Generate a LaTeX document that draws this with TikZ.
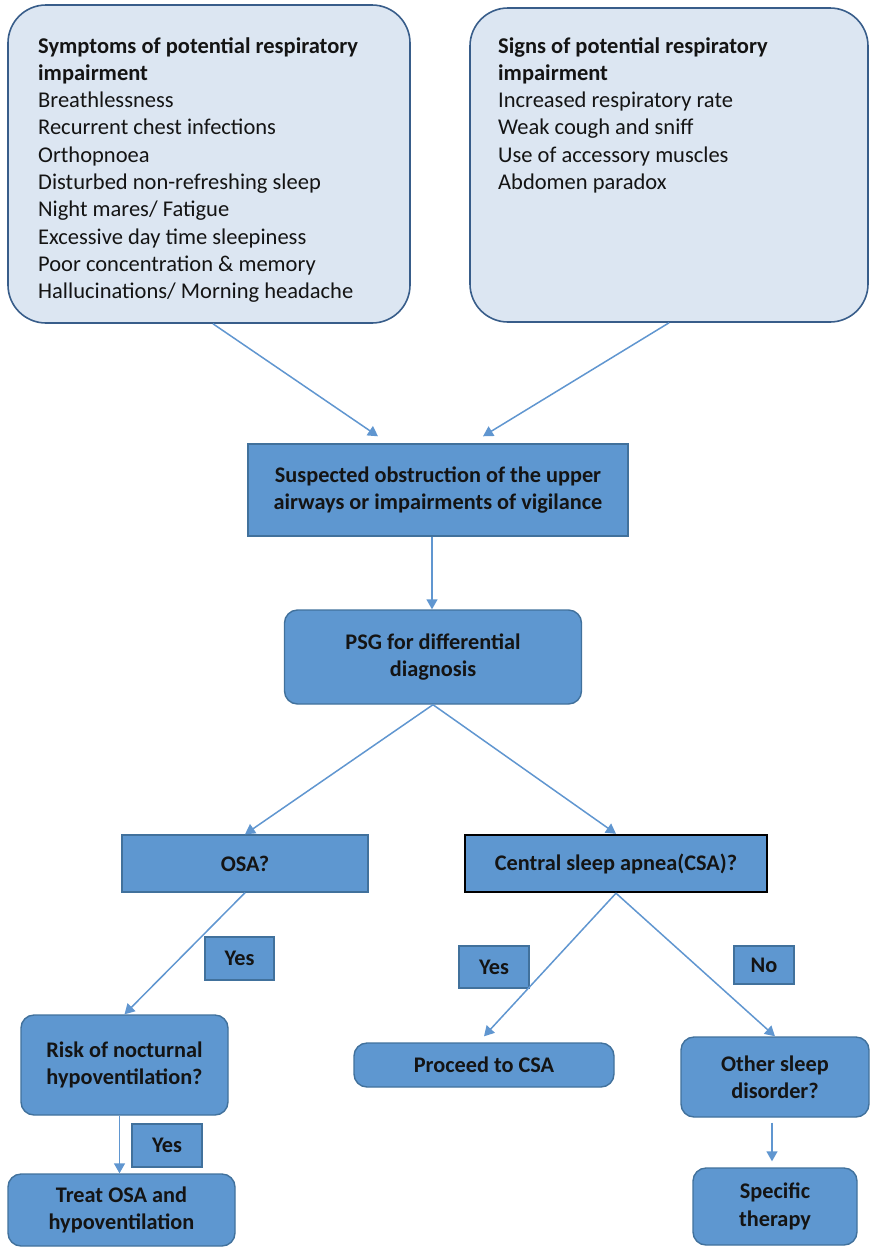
\documentclass[tikz,border=0pt]{standalone}
\usepackage{fontspec}
\setmainfont{Carlito}
\usetikzlibrary{arrows.meta,calc}
\definecolor{lightfill}{RGB}{220,230,242}
\definecolor{darkline}{RGB}{56,93,138}
\definecolor{midfill}{RGB}{94,151,208}
\definecolor{midline}{RGB}{65,113,156}
\definecolor{arrowc}{RGB}{96,150,208}
\definecolor{txt}{RGB}{20,20,20}
\tikzset{
  bigbox/.style={draw=darkline, fill=lightfill, line width=1.6pt, rounded corners=38pt, inner sep=0pt},
  listtext/.style={align=left, anchor=north west, inner sep=0pt, text=txt, font=\fontsize{22.5}{27.3}\selectfont},
  sqbox/.style={draw=midline, fill=midfill, line width=1.4pt, inner sep=0pt, align=center, text=txt, font=\bfseries\fontsize{22.3}{27.3}\selectfont},
  rbox/.style={sqbox, rounded corners=13pt},
  flow/.style={draw=arrowc, line width=1.5pt, -{Triangle[length=10pt,width=11pt]}},
}
\begin{document}
\begin{tikzpicture}[x=1pt,y=-1pt]
\useasboundingbox (0,0) rectangle (870,1248);
% top boxes
\node[bigbox, minimum width=402pt, minimum height=318pt] (sym) at (209,164) {};
\node[bigbox, minimum width=398pt, minimum height=314pt] (sig) at (669,165) {};
\node[listtext] (symtext) at (38,37) {\textbf{Symptoms of potential respiratory}\\\textbf{impairment}\\Breathlessness\\Recurrent chest infections\\Orthopnoea\\Disturbed non-refreshing sleep\\Night mares/ Fatigue\\Excessive day time sleepiness\\Poor concentration \& memory\\Hallucinations/ Morning headache};
\node[listtext] (sigtext) at (498,37) {\textbf{Signs of potential respiratory}\\\textbf{impairment}\\Increased respiratory rate\\Weak cough and sniff\\Use of accessory muscles\\Abdomen paradox};
% flow boxes
\node[sqbox, minimum width=380pt, minimum height=92pt] (susp) at (438,490) {Suspected obstruction of the upper\\airways or impairments of vigilance};
\node[rbox, minimum width=297pt, minimum height=94pt] (psg) at (433,657) {PSG for differential\\diagnosis};
\node[sqbox, minimum width=246pt, minimum height=57pt] (osa) at (245,863.5) {OSA?};
\node[sqbox, draw=black, line width=2.4pt, minimum width=302pt, minimum height=57pt] (csa) at (616,863.5) {Central sleep apnea(CSA)?};
\node[sqbox, minimum width=69pt, minimum height=43pt] (yes1) at (239.5,958.5) {Yes};
\node[sqbox, minimum width=70pt, minimum height=42pt] (yes2) at (494,967) {Yes};
\node[sqbox, minimum width=60pt, minimum height=38pt] (no) at (764,965) {No};
\node[rbox, minimum width=207pt, minimum height=100pt] (risk) at (124.5,1065) {Risk of nocturnal\\hypoventilation?};
\node[sqbox, minimum width=70pt, minimum height=43pt] (yes3) at (167,1145.5) {Yes};
\node[rbox, minimum width=227pt, minimum height=72pt] (treat) at (121.5,1210) {Treat OSA and\\hypoventilation};
\node[rbox, minimum width=260pt, minimum height=44pt] (proc) at (484,1065) {Proceed to CSA};
\node[rbox, minimum width=188pt, minimum height=80pt] (other) at (775,1077) {Other sleep\\disorder?};
\node[rbox, minimum width=164pt, minimum height=77pt] (spec) at (775,1206.5) {Specific\\therapy};
% connectors
\draw[flow] ([xshift=4pt]sym.south) -- ([xshift=-60pt,yshift=7pt]susp.north);
\draw[flow] (sig.south) -- ([xshift=45pt,yshift=7pt]susp.north);
\draw[flow] ([xshift=-6pt]susp.south) -- ([xshift=-1pt]psg.north);
\draw[flow] (psg.south) -- (osa.north);
\draw[flow] (psg.south) -- (csa.north);
\draw[flow] (osa.south) -- (risk.north);
\draw[flow] (csa.south) -- ([yshift=6pt]proc.north);
\draw[flow] (csa.south) -- (other.north);
\draw[flow] ([xshift=-5pt]risk.south) -- ([xshift=-2pt]treat.north);
\draw[flow] ([xshift=-3pt,yshift=-5pt]other.south) -- ([xshift=-3pt,yshift=6pt]spec.north);
\end{tikzpicture}
\end{document}
